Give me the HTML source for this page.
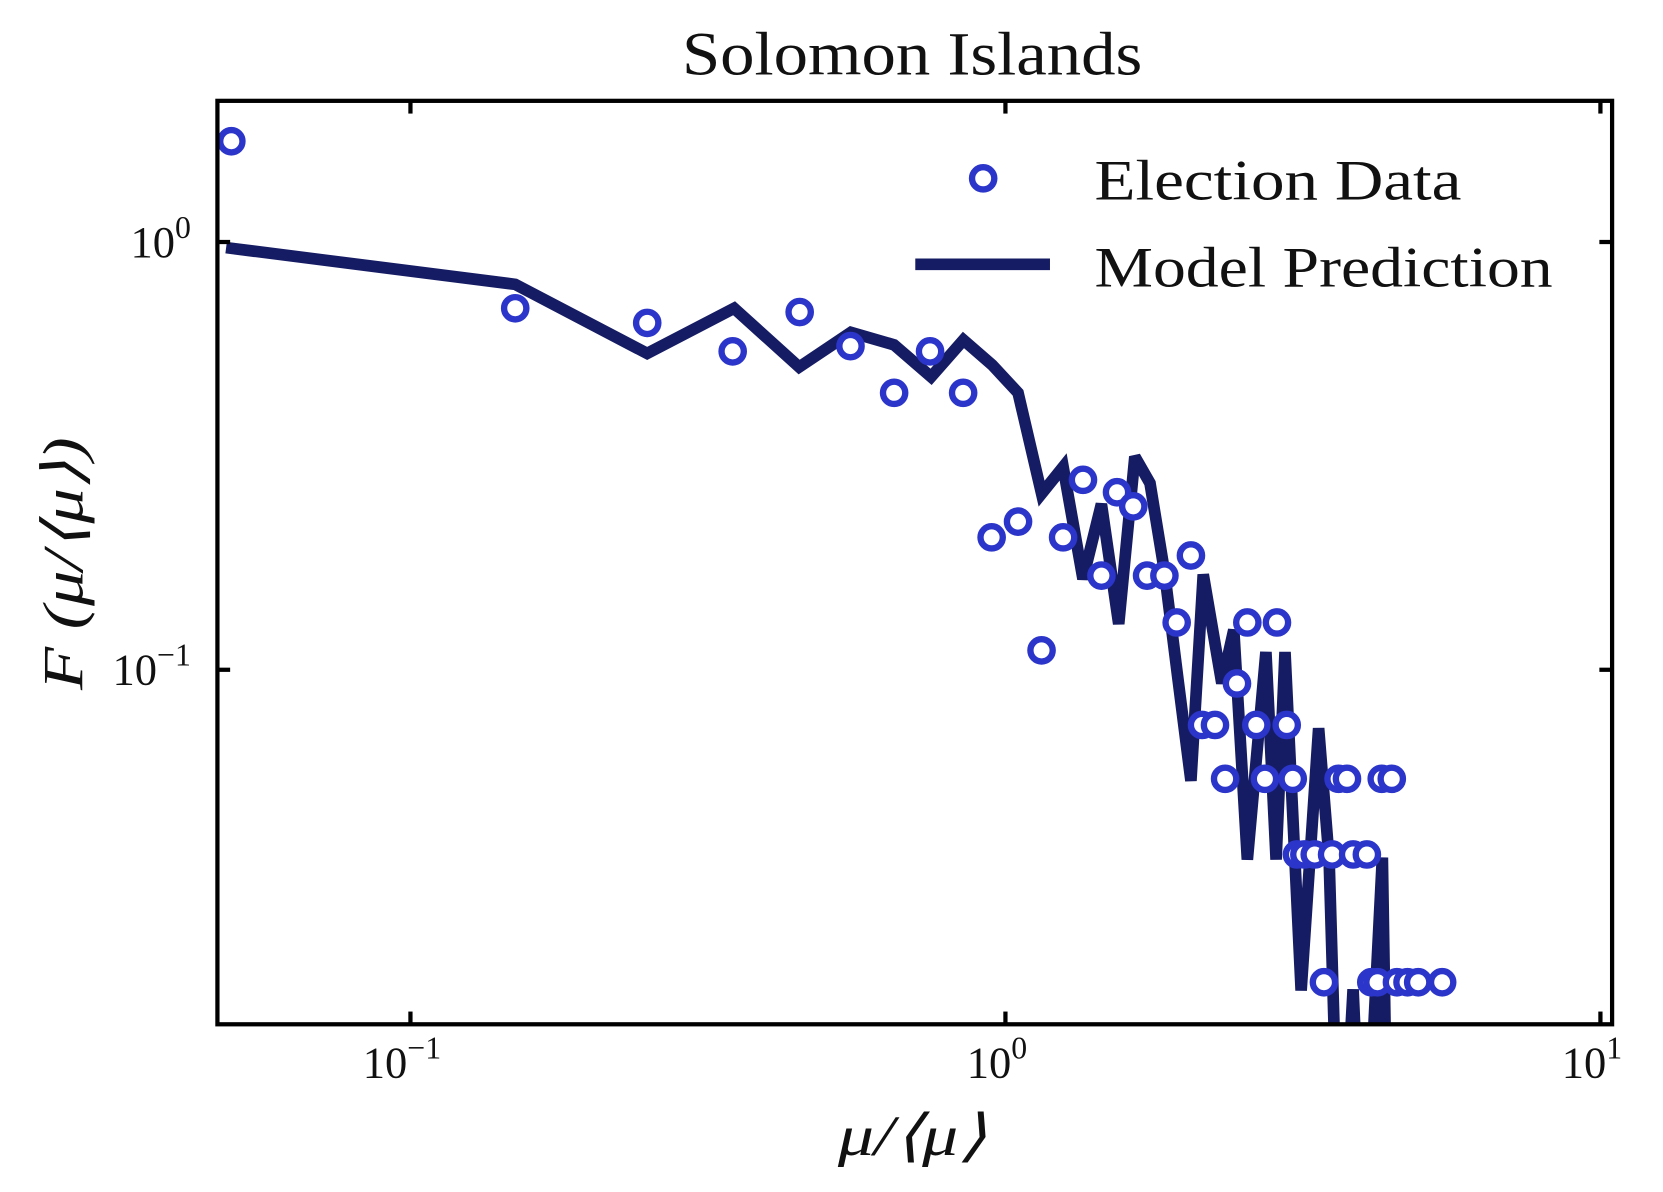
<!DOCTYPE html>
<html><head><meta charset="utf-8"><style>
html,body{margin:0;padding:0;background:#fff;}
svg{display:block;}
text{font-family:"Liberation Serif",serif;fill:#111;}
</style></head><body>
<svg id="chart" width="1663" height="1192" viewBox="0 0 1568 1123" preserveAspectRatio="none" xmlns="http://www.w3.org/2000/svg">
<defs><clipPath id="plotclip"><rect x="205" y="95" width="1315" height="870"/></clipPath></defs>
<rect x="0" y="0" width="1568" height="1123" fill="#fff"/>
<text x="643" y="70" font-size="58" textLength="434" lengthAdjust="spacingAndGlyphs">Solomon Islands</text>
<g id="series" clip-path="url(#plotclip)"></g>
<g id="axes"></g>
<text x="790" y="1088" font-size="54" font-style="italic" textLength="140" lengthAdjust="spacingAndGlyphs">μ/⟨μ⟩</text>
<text transform="translate(78,650) rotate(-90)" font-size="54" font-style="italic" textLength="238" lengthAdjust="spacingAndGlyphs">F (μ/⟨μ⟩)</text>
<g>
<circle cx="927" cy="168" r="10.5" fill="#fff" stroke="#2b35c9" stroke-width="6"/>
<text x="1032" y="188" font-size="54" textLength="346" lengthAdjust="spacingAndGlyphs">Election Data</text>
<line x1="863" y1="249" x2="990" y2="249" stroke="#161c63" stroke-width="11"/>
<text x="1032" y="270" font-size="54" textLength="432" lengthAdjust="spacingAndGlyphs">Model Prediction</text>
</g>
</svg>
<script>
const dataX=[0.050,0.150,0.250,0.348,0.451,0.549,0.650,0.747,0.849,0.948,1.05,1.15,1.25,1.35,1.45,1.54,1.64,1.73,1.85,1.94,2.05,2.14,2.25,2.34,2.45,2.55,2.64,2.73,2.86,2.97,3.04,3.09,3.18,3.31,3.43,3.54,3.63,3.75,3.84,4.05,4.12,4.22,4.29,4.46,4.55,4.74,4.94,5.42];
const dataY=[1.72,0.70,0.647,0.555,0.686,0.571,0.444,0.555,0.444,0.204,0.222,0.111,0.204,0.278,0.166,0.26,0.241,0.166,0.166,0.129,0.185,0.0743,0.0743,0.0556,0.0929,0.129,0.0743,0.0556,0.129,0.0743,0.0556,0.037,0.037,0.037,0.0186,0.037,0.0556,0.0556,0.037,0.037,0.0186,0.0186,0.0556,0.0556,0.0186,0.0186,0.0186,0.0186];
const modelX=[0.049,0.15,0.25,0.35,0.45,0.55,0.65,0.75,0.85,0.95,1.05,1.15,1.25,1.35,1.45,1.55,1.65,1.75,1.85,1.95,2.05,2.15,2.31,2.42,2.55,2.74,2.85,2.95,3.14,3.36,3.5,3.65,3.84,4.0,4.3,4.4];
const modelY=[0.97,0.796,0.549,0.70,0.51,0.615,0.575,0.484,0.59,0.516,0.444,0.258,0.298,0.163,0.244,0.128,0.315,0.273,0.17,0.095,0.055,0.167,0.093,0.124,0.036,0.11,0.036,0.11,0.0178,0.073,0.036,0.005,0.0179,0.005,0.0364,0.005];
const xTicks=[0.1,1,10];
const xTickLabels=[["10","−1"],["10","0"],["10","1"]];
const yTicks=[1,0.1];
const yTickLabels=[["10","0"],["10","−1"]];
const NS="http://www.w3.org/2000/svg";
const L=205,R=1520,T=95,B=965;
function sx(v){return 948+561*Math.log10(v);}
function sy(v){return 228-403*Math.log10(v);}
function mk(tag,attrs,parent){const e=document.createElementNS(NS,tag);for(const k in attrs)e.setAttribute(k,attrs[k]);parent.appendChild(e);return e;}
const series=document.getElementById('series');
const axes=document.getElementById('axes');
let d=modelX.map((x,i)=>(i?'L':'M')+sx(x).toFixed(1)+','+sy(modelY[i]).toFixed(1)).join(' ');
const line=mk('path',{d:d,fill:'none',stroke:'#161c63','stroke-width':11,'stroke-linejoin':'miter','stroke-miterlimit':3},series);


dataX.forEach((x,i)=>{
  const c=mk('circle',{cx:sx(x),cy:sy(dataY[i]),r:10.5,fill:'#fff',stroke:'#2b35c9','stroke-width':6},series);
  
  
});
const frame=mk('rect',{x:L,y:T,width:R-L,height:B-T,fill:'none',stroke:'#000','stroke-width':4},axes);


xTicks.forEach((v,i)=>{
  const x=sx(v);
  const t1=mk('line',{x1:x,y1:B,x2:x,y2:B-12,stroke:'#000','stroke-width':4},axes);
  
  
  const t2=mk('line',{x1:x,y1:T,x2:x,y2:T+12,stroke:'#000','stroke-width':4},axes);
  
  
  const tx=mk('text',{x:x-8,y:1015,'font-size':42,'text-anchor':'middle'},axes);
  
  
  tx.textContent=xTickLabels[i][0];
  const sup=mk('tspan',{dy:-18,'font-size':30},tx);
  sup.textContent=xTickLabels[i][1];
});
yTicks.forEach((v,i)=>{
  const y=sy(v);
  const t1=mk('line',{x1:L,y1:y,x2:L+12,y2:y,stroke:'#000','stroke-width':4},axes);
  
  
  const t2=mk('line',{x1:R,y1:y,x2:R-12,y2:y,stroke:'#000','stroke-width':4},axes);
  
  
  const tx=mk('text',{x:180,y:y+14,'font-size':42,'text-anchor':'end'},axes);
  
  
  tx.textContent=yTickLabels[i][0];
  const sup=mk('tspan',{dy:-18,'font-size':30},tx);
  sup.textContent=yTickLabels[i][1];
});
</script>
</body></html>
